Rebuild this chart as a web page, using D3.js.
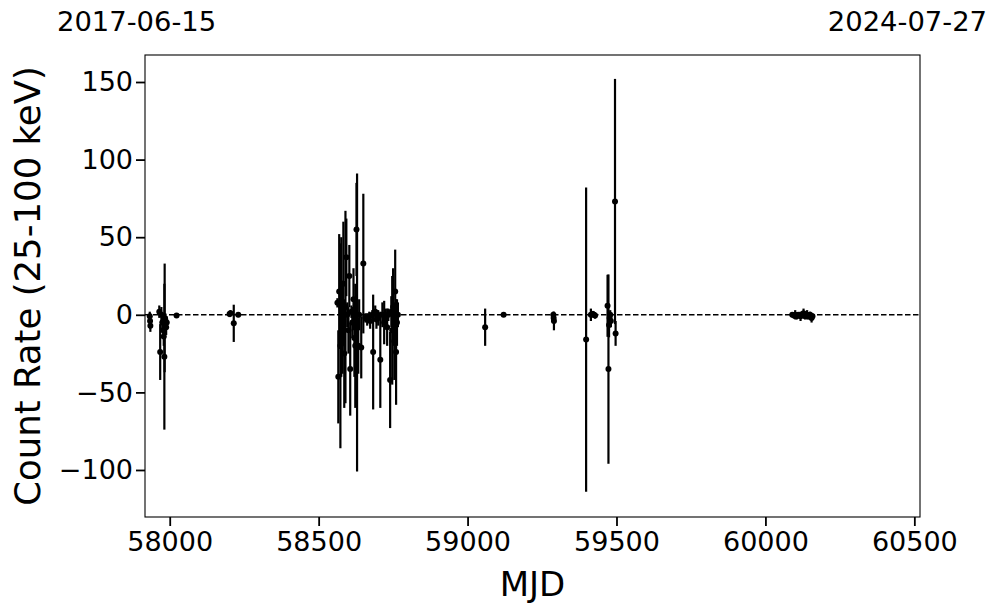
<!DOCTYPE html>
<html><head><meta charset="utf-8">
<script src="https://cdn.jsdelivr.net/npm/d3@7"></script>
<style>body{margin:0;background:#fff;} text{font-family:"DejaVu Sans",sans-serif;}</style>
</head><body><svg id="c" width="997" height="613"></svg>
<script>
const mjd = [57933,57934,57935,57965,57968,57972,57975,57978,57980,57982,57983,57985,57988,57990,58023,
58201,58204,58215,58230,
58563,58566,58569,58573,58576,58580,58583,58586,58590,58593,58596,58600,58603,58606,58610,58613,58617,58620,58623,58627,58629,58633,58636,58643,58650,58657,58663,58670,58673,58680,58683,58690,58694,58697,58700,58707,58714,58720,58724,58730,58734,58740,58744,58747,58750,58754,58757,58760,58763,58766,
59059,59121,59288,59289,59290,59398,59414,59420,59424,59428,59470,59473,59475,59477,59479,59481,59495,59497,
60090,60096,60100,60105,60110,60118,60122,60128,60133,60140,60145,60150,60155,60158];
const rate = [-1,-4,-7,2,-24,0,-5,-10,-14,-27,-2,-3,-8,-5,-0.5,
0.5,1,-5.5,0,
7.7,-40,15,-20,5,-8,20,-25,5,37,0,-10,25,-35,2,-5,10,-15,-20,55,-5,-20,0,-21,33,-2,-3,-1,-4,0,-24,2,-3,0,-2,-29,0,-5,-2,-8,0,-42,2,-10,5,-17,15,-24,-5,0,
-8,0,0,-2,-4,-16,0,0.5,0,-0.5,5.8,-35,-6.5,-2,0,-4,73,-12,
0,-0.5,0,-1,0,-1,0,1,-1,0,-1,0,-2,-1];
const err = [3,5,4,4,18,5,6,5,6,47,35,4,5,4,1.5,
2,2,12,1.5,
3,30,37,66,45,30,40,35,62,25,8,15,20,30,4,10,20,25,40,30,96,18,10,20,45,3,4,3,5,3,37,4,6,3,5,31,8,14,6,12,4,31,10,35,25,25,27,34,15,8,
12,1,2,3,6,98,4,2,2,2,20,61,8,4,3,4,79,8,
1,2,3,2,1.5,3,2,3,2,3,2,2,3,2];
const xTicks = [58000,58500,59000,59500,60000,60500];
const yTicks = [-100,-50,0,50,100,150];
const dateLeft = "2017-06-15", dateRight = "2024-07-27";

const svg = d3.select("#c");
const L=145,R=920,T=55,B=517;
const x = d3.scaleLinear().domain([57917,60519]).range([L,R]);
const y = d3.scaleLinear().domain([-130.3,167.4]).range([B,T]);
const data = mjd.map((m,i)=>({m, r:rate[i], e:err[i]}));

const g = svg.append("g");
g.append("line").attr("x1",L).attr("x2",R).attr("y1",y(0)).attr("y2",y(0))
 .attr("stroke","#000").attr("stroke-width",1.5).attr("stroke-dasharray","5.5,2.5");
g.selectAll("line.eb").data(data).join("line").attr("class","eb")
 .attr("x1",d=>x(d.m)).attr("x2",d=>x(d.m)).attr("y1",d=>y(d.r+d.e)).attr("y2",d=>y(d.r-d.e))
 .attr("stroke","#000").attr("stroke-width",2.2);
g.selectAll("circle").data(data).join("circle")
 .attr("cx",d=>x(d.m)).attr("cy",d=>y(d.r)).attr("r",3).attr("fill","#000");

const xa = svg.append("g").attr("transform",`translate(0,${B})`)
 .call(d3.axisBottom(x).tickValues(xTicks).tickFormat(d3.format("d")).tickSize(9).tickPadding(6));
const ya = svg.append("g").attr("transform",`translate(${L},0)`)
 .call(d3.axisLeft(y).tickValues(yTicks).tickFormat(d=>d<0?"\u2212"+Math.abs(d):String(d)).tickSize(9).tickPadding(3));
[xa,ya].forEach(a=>{a.select(".domain").remove();
 a.selectAll("line").attr("stroke","#000").attr("stroke-width",1.8);
 a.selectAll("text").attr("font-size",27).attr("fill","#000").attr("font-family","DejaVu Sans");});
svg.append("rect").attr("x",L).attr("y",T).attr("width",R-L).attr("height",B-T)
 .attr("fill","none").attr("stroke","#000").attr("stroke-width",1.1);

svg.append("text").attr("x",(L+R)/2).attr("y",596).attr("text-anchor","middle")
 .attr("font-size",34).text("MJD");
svg.append("text").attr("transform",`translate(40,${(T+B)/2}) rotate(-90)`).attr("text-anchor","middle")
 .attr("font-size",35.5).text("Count Rate (25-100 keV)");
svg.append("text").attr("x",57).attr("y",31).attr("font-size",27.4).text(dateLeft);
svg.append("text").attr("x",987).attr("y",31).attr("text-anchor","end").attr("font-size",27.4).text(dateRight);
</script></body></html>
